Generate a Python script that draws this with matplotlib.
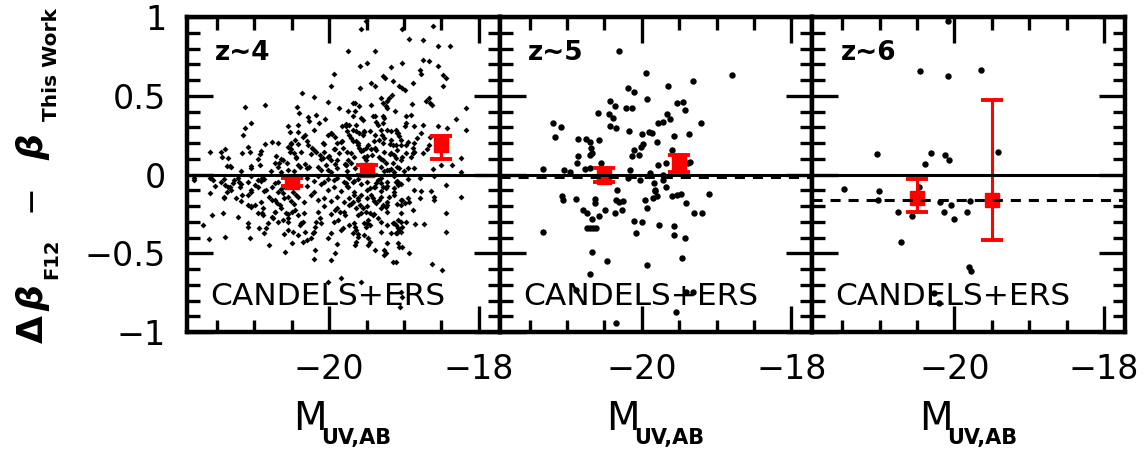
import matplotlib
matplotlib.use('Agg')
import matplotlib.pyplot as plt
from matplotlib.ticker import MultipleLocator

# ---- data ----
panel_labels = ['z~4', 'z~5', 'z~6']
field_label = 'CANDELS+ERS'

# z~4 (small diamonds)
z4_pts = [
    (-19.94, 0.64), (-19.98, 0.56), (-20.36, 0.52), (-20.20, 0.49), (-20.02, 0.46), (-19.87, 0.42),
    (-21.12, 0.43), (-20.86, 0.44), (-20.43, 0.43), (-20.40, 0.39), (-20.28, 0.365), (-20.27, 0.34),
    (-20.17, 0.38), (-20.14, 0.33), (-20.06, 0.35), (-21.04, 0.33), (-21.12, 0.295), (-21.15, 0.25),
    (-20.55, 0.305), (-20.52, 0.27), (-20.41, 0.316), (-20.32, 0.25), (-20.35, 0.237), (-20.46, 0.216),
    (-20.41, 0.195), (-20.51, 0.195), (-20.55, 0.174), (-20.52, 0.146), (-20.68, 0.2), (-20.77, 0.206),
    (-20.86, 0.193), (-21.09, 0.172), (-21.06, 0.146), (-21.17, 0.136), (-20.93, 0.131), (-20.95, 0.097),
    (-21.44, 0.146), (-21.39, 0.161), (-21.59, 0.146), (-21.43, 0.11), (-21.35, 0.104), (-21.32, 0.055),
    (-21.37, 0.055), (-21.04, 0.055), (-20.72, 0.072), (-20.67, 0.072), (-20.61, 0.093), (-20.56, 0.072),
    (-20.47, 0.136), (-20.44, 0.104), (-20.28, 0.19), (-20.23, 0.167), (-20.17, 0.146), (-20.12, 0.125),
    (-20.08, 0.104), (-20.08, 0.2), (-20.01, 0.25), (-19.96, 0.26), (-19.92, 0.237), (-19.89, 0.2),
    (-19.83, 0.21), (-19.92, 0.16), (-19.87, 0.136), (-19.81, 0.167), (-19.83, 0.305), (-19.78, 0.32),
    (-20.01, 0.114), (-19.97, 0.089), (-19.92, 0.068), (-20.32, 0.068), (-20.27, 0.047), (-20.39, 0.047),
    (-19.79, 0.068), (-20.04, 0.061),
    (-19.51, 0.974), (-19.57, 0.921), (-19.03, 0.921), (-18.61, 0.942), (-18.93, 0.862), (-18.74, 0.857),
    (-19.75, 0.783), (-19.39, 0.783), (-18.54, 0.819), (-18.38, 0.819), (-19.49, 0.709), (-19.59, 0.687),
    (-19.17, 0.683), (-19.03, 0.709), (-18.74, 0.73), (-18.66, 0.72), (-18.55, 0.687), (-19.28, 0.624),
    (-19.25, 0.613), (-18.79, 0.662), (-18.77, 0.641), (-18.48, 0.634), (-18.44, 0.613), (-19.44, 0.581),
    (-19.39, 0.56), (-19.14, 0.592), (-19.06, 0.56), (-19.02, 0.55), (-18.98, 0.539), (-18.88, 0.581),
    (-18.48, 0.56), (-19.59, 0.55), (-19.16, 0.507), (-19.2, 0.486), (-19.22, 0.465), (-19.31, 0.486),
    (-19.28, 0.454), (-19.24, 0.437), (-19.22, 0.422), (-18.67, 0.486), (-18.65, 0.454), (-18.62, 0.443),
    (-18.71, 0.465), (-18.89, 0.45), (-19.44, 0.439), (-19.68, 0.454), (-19.65, 0.454), (-19.6, 0.437),
    (-18.17, 0.422), (-19.12, 0.401), (-18.91, 0.38), (-18.97, 0.369), (-19.42, 0.369), (-19.38, 0.373),
    (-19.28, 0.369), (-19.26, 0.358), (-19.75, 0.401), (-19.66, 0.401), (-19.68, 0.369), (-19.57, 0.358),
    (-19.55, 0.348), (-19.77, 0.305), (-19.73, 0.316), (-19.64, 0.316), (-19.37, 0.331), (-19.35, 0.316),
    (-19.28, 0.327), (-18.97, 0.327), (-18.99, 0.305), (-18.86, 0.305), (-18.75, 0.316), (-18.54, 0.305),
    (-18.43, 0.295), (-18.3, 0.352), (-18.17, 0.28), (-19.22, 0.284), (-19.17, 0.274), (-19.11, 0.284),
    (-19.08, 0.263), (-19.06, 0.242), (-19.04, 0.22), (-19.68, 0.284), (-19.64, 0.274), (-19.6, 0.263),
    (-19.55, 0.252), (-19.53, 0.274), (-19.73, 0.252), (-19.71, 0.231), (-19.68, 0.21), (-19.46, 0.274),
    (-19.39, 0.252), (-19.29, 0.252), (-19.26, 0.231), (-19.33, 0.22), (-19.28, 0.2), (-19.17, 0.22),
    (-19.15, 0.189), (-19.11, 0.189), (-19.04, 0.189), (-18.97, 0.189), (-18.86, 0.2), (-18.82, 0.231),
    (-18.77, 0.263), (-18.88, 0.167), (-18.88, 0.135), (-18.86, 0.146), (-18.97, 0.135), (-19.02, 0.114),
    (-18.75, 0.135), (-18.67, 0.189), (-18.65, 0.24), (-19.39, 0.167), (-19.37, 0.157), (-19.43, 0.125),
    (-19.48, 0.189), (-19.51, 0.167), (-19.55, 0.157), (-19.64, 0.21), (-19.62, 0.189), (-19.6, 0.167),
    (-19.71, 0.135), (-19.53, 0.114), (-19.51, 0.093), (-19.33, 0.114), (-19.28, 0.093), (-19.24, 0.072),
    (-19.17, 0.135), (-19.13, 0.125), (-19.11, 0.104), (-19.15, 0.072), (-19.75, 0.093), (-19.77, 0.061),
    (-19.71, 0.072), (-19.66, 0.04), (-19.22, 0.029), (-19.17, 0.034), (-19.06, 0.04), (-18.95, 0.04),
    (-18.61, 0.036), (-18.5, 0.061), (-18.36, 0.061), (-18.24, 0.104), (-18.24, 0.019),
    (-21.81, -0.034), (-21.59, -0.023), (-21.55, -0.034), (-21.39, -0.066), (-21.32, -0.077),
    (-21.28, -0.055), (-21.21, -0.045), (-21.19, -0.077), (-21.37, -0.108), (-21.59, -0.119),
    (-21.17, -0.13), (-21.24, -0.151), (-21.41, -0.151), (-21.04, -0.098), (-20.99, -0.066),
    (-20.95, -0.034), (-20.9, -0.023), (-21.08, -0.193), (-21.04, -0.204), (-20.99, -0.193),
    (-20.88, -0.215), (-20.81, -0.14), (-20.77, -0.16), (-20.9, -0.246), (-20.88, -0.257),
    (-21.56, -0.257), (-21.42, -0.246), (-21.22, -0.272), (-21.68, -0.321), (-21.09, -0.331),
    (-20.94, -0.338), (-20.84, -0.342), (-21.61, -0.412), (-21.39, -0.395), (-21.06, -0.406),
    (-20.81, -0.448), (-20.59, -0.495), (-20.5, -0.437), (-20.19, -0.48), (-20.2, -0.537),
    (-20.01, -0.406), (-19.92, -0.501), (-19.98, -0.544), (-20.01, -0.682), (-19.84, -0.66),
    (-20.84, -0.098), (-20.77, -0.077), (-20.72, -0.055), (-20.68, -0.108), (-20.61, -0.119),
    (-20.59, -0.077), (-20.55, -0.14), (-20.48, -0.108), (-20.44, -0.13), (-20.70, -0.183),
    (-20.66, -0.193), (-20.72, -0.236), (-20.77, -0.268), (-20.75, -0.278), (-20.68, -0.3),
    (-20.61, -0.289), (-20.55, -0.278), (-20.57, -0.246), (-20.5, -0.236), (-20.46, -0.225),
    (-20.41, -0.257), (-20.55, -0.353), (-20.48, -0.363), (-20.39, -0.321), (-20.35, -0.3),
    (-20.41, -0.384), (-20.32, -0.363), (-20.35, -0.427), (-20.3, -0.416), (-20.24, -0.406),
    (-20.21, -0.374), (-20.19, -0.331), (-20.17, -0.3), (-20.12, -0.278), (-19.89, -0.444),
    (-19.84, -0.353), (-19.81, -0.342), (-19.88, -0.289), (-19.79, -0.257), (-19.86, -0.236),
    (-19.92, -0.225),
    (-18.44, -0.066), (-18.24, -0.14), (-18.44, -0.246), (-18.44, -0.363), (-18.64, -0.104),
    (-18.77, -0.104), (-18.6, -0.161), (-18.88, -0.225), (-18.73, -0.316), (-18.85, -0.316),
    (-18.97, -0.3), (-18.93, -0.172), (-18.95, -0.151), (-18.99, -0.183), (-19.04, -0.193),
    (-19.02, -0.161), (-19.08, -0.066), (-19.11, -0.045), (-19.13, -0.087), (-19.06, -0.055),
    (-19.24, -0.087), (-19.2, -0.14), (-19.22, -0.193), (-19.24, -0.204), (-19.37, -0.055),
    (-19.39, -0.077), (-19.31, -0.055), (-19.28, -0.077), (-19.46, -0.087), (-19.44, -0.13),
    (-19.42, -0.151), (-19.37, -0.183), (-19.33, -0.161), (-19.28, -0.193), (-19.57, -0.13),
    (-19.62, -0.151), (-19.68, -0.172), (-19.73, -0.193), (-19.73, -0.023), (-19.68, -0.045),
    (-19.77, -0.055), (-19.55, -0.214), (-19.51, -0.236), (-19.46, -0.246), (-19.42, -0.257),
    (-19.35, -0.278), (-19.59, -0.193), (-19.64, -0.214), (-19.62, -0.257), (-19.48, -0.289),
    (-19.53, -0.31), (-19.51, -0.331), (-19.46, -0.321), (-19.53, -0.384), (-19.48, -0.406),
    (-19.46, -0.427), (-19.48, -0.448), (-19.39, -0.48), (-19.26, -0.48), (-19.24, -0.501),
    (-19.26, -0.512), (-19.22, -0.437), (-19.08, -0.437), (-19.06, -0.459), (-19.02, -0.459),
    (-18.93, -0.501), (-19.15, -0.554), (-19.11, -0.554), (-18.62, -0.571), (-18.49, -0.607),
    (-19.57, -0.682), (-19.04, -0.745), (-19.02, -0.777), (-19.05, -0.841),
    (-19.73, -0.321), (-19.66, -0.331), (-19.64, -0.353), (-19.68, -0.374), (-19.62, -0.395),
    (-19.64, -0.427), (-19.66, -0.448), (-19.15, -0.31), (-19.11, -0.321), (-19.08, -0.342),
    (-19.06, -0.353), (-19.04, -0.363), (-19.11, -0.374), (-19.17, -0.374), (-19.22, -0.321),
    (-19.02, -0.331), (-19.04, -0.3), (-19.08, -0.289), (-19.75, -0.077), (-19.73, -0.151),
    (-20.71, 0.12), (-20.64, 0.10), (-20.44, 0.11), (-20.24, 0.13), (-20.11, 0.10), (-20.0, 0.12),
    (-19.89, 0.09), (-19.67, 0.11), (-19.49, 0.12), (-19.31, 0.10), (-19.18, 0.13), (-19.04, 0.09),
    (-18.91, 0.11),
    (-21.31, 0.05), (-21.04, 0.04), (-20.93, 0.06), (-20.69, 0.05), (-20.55, 0.03), (-20.42, 0.06),
    (-20.29, 0.04), (-20.15, 0.05), (-20.02, 0.03), (-19.89, 0.04), (-19.78, 0.06), (-19.31, 0.05),
    (-19.2, 0.03), (-19.09, 0.05), (-18.87, 0.04),
    (-21.8, -0.02), (-21.58, -0.01), (-21.4, -0.03), (-21.22, -0.02), (-21.04, -0.01), (-20.87, -0.03),
    (-20.29, -0.02), (-20.15, -0.01), (-20.02, -0.03), (-19.89, -0.02), (-19.755, -0.01), (-19.62, -0.03),
    (-19.31, -0.02), (-19.13, -0.01), (-18.95, -0.03), (-18.78, -0.02), (-18.6, -0.01),
    (-21.53, -0.07), (-21.35, -0.08), (-21.18, -0.06), (-20.955, -0.08), (-20.29, -0.07), (-20.11, -0.06),
    (-19.93, -0.08), (-19.755, -0.07), (-19.58, -0.06), (-19.4, -0.08), (-19.22, -0.07), (-19.04, -0.06),
    (-21.4, -0.14), (-21.09, -0.13), (-20.6, -0.15), (-20.42, -0.14), (-20.24, -0.13), (-20.07, -0.15),
    (-19.89, -0.14), (-19.67, -0.13), (-19.49, -0.15), (-19.31, -0.14), (-19.13, -0.13), (-18.78, -0.15),
    (-18.6, -0.14),
    (-21.04, -0.2), (-20.64, -0.21), (-20.47, -0.19), (-20.07, -0.2), (-19.89, -0.21), (-19.71, -0.19),
    (-19.49, -0.2), (-19.31, -0.21), (-19.09, -0.19),
    # denser core
    (-20.91, 0.15), (-20.51, 0.16), (-20.38, 0.14), (-20.2, 0.155), (-20.07, 0.145), (-19.93, 0.16),
    (-19.755, 0.14), (-19.58, 0.15), (-19.44, 0.165), (-19.27, 0.145), (-19.09, 0.155), (-18.87, 0.14),
    (-18.69, 0.16),
    (-21.18, 0.02), (-20.78, 0.025), (-20.64, 0.015), (-20.47, 0.02), (-20.11, 0.03), (-19.98, 0.015),
    (-19.755, 0.025), (-19.27, 0.02), (-19.13, 0.015), (-19.0, 0.025),
    (-21.44, -0.045), (-21.27, -0.035), (-21.09, -0.05), (-20.91, -0.04), (-20.69, -0.045), (-20.2, -0.04),
    (-20.07, -0.05), (-19.93, -0.035), (-19.8, -0.045), (-19.67, -0.04), (-19.49, -0.05), (-19.35, -0.035),
    (-19.22, -0.045), (-19.09, -0.04),
    (-21.31, -0.1), (-21.04, -0.11), (-20.87, -0.105), (-20.64, -0.095), (-20.2, -0.11), (-20.02, -0.1),
    (-19.84, -0.105), (-19.67, -0.11), (-19.49, -0.1), (-19.31, -0.105), (-19.13, -0.11), (-18.87, -0.1),
    (-21.18, -0.17), (-20.91, -0.175), (-20.73, -0.165), (-20.51, -0.17), (-20.33, -0.175), (-20.15, -0.165),
    (-19.98, -0.17), (-19.8, -0.175), (-19.62, -0.165), (-19.4, -0.17), (-19.22, -0.175), (-19.04, -0.165),
    (-20.955, -0.245), (-20.73, -0.24), (-20.555, -0.25), (-20.33, -0.245), (-20.15, -0.235),
    (-19.98, -0.25), (-19.8, -0.24), (-19.58, -0.245), (-19.4, -0.25), (-19.22, -0.24), (-19.04, -0.245),
    (-21.09, -0.305), (-20.82, -0.31), (-20.555, -0.3), (-20.38, -0.31), (-20.11, -0.305),
    (-19.93, -0.3), (-19.67, -0.31), (-19.49, -0.305), (-19.31, -0.3), (-19.13, -0.31),
    (-20.87, -0.37), (-20.6, -0.375), (-20.2, -0.365), (-19.98, -0.37), (-19.62, -0.375),
    (-19.31, -0.365), (-19.09, -0.37),
    (-20.42, 0.27), (-20.2, 0.28), (-19.98, 0.265), (-19.755, 0.275), (-19.53, 0.27), (-19.31, 0.28),
    (-19.09, 0.265),
    (-20.51, 0.2), (-20.29, 0.21), (-20.07, 0.195), (-19.84, 0.205), (-19.62, 0.2), (-19.4, 0.21),
    (-19.18, 0.195), (-18.95, 0.205),
]
M_z4 = [p[0] for p in z4_pts]
db_z4 = [p[1] for p in z4_pts]

# z~5 (filled circles)
z5_pts = [
    (-20.31, 0.782), (-19.94, 0.644), (-18.79, 0.631), (-19.32, 0.595), (-19.65, 0.563), (-20.18, 0.552),
    (-20.11, 0.525), (-19.93, 0.482), (-20.42, 0.467), (-20.36, 0.436), (-20.21, 0.425), (-20.13, 0.425),
    (-20.58, 0.393), (-20.445, 0.383), (-20.38, 0.361), (-19.53, 0.457), (-19.45, 0.461), (-19.42, 0.41),
    (-19.66, 0.382), (-19.71, 0.334), (-19.78, 0.329), (-19.62, 0.355), (-20.42, 0.308), (-20.34, 0.298),
    (-20.17, 0.276), (-21.19, 0.325), (-21.08, 0.302), (-21.16, 0.238), (-19.21, 0.325), (-19.91, 0.27),
    (-19.86, 0.261), (-20.0, 0.255), (-19.57, 0.245), (-19.37, 0.255), (-20.85, 0.223), (-20.75, 0.223),
    (-20.69, 0.206), (-20.57, 0.219), (-20.68, 0.17), (-20.67, 0.134), (-20.69, 0.121), (-19.99, 0.191),
    (-20.01, 0.176), (-20.11, 0.155), (-20.13, 0.117), (-20.04, 0.121), (-19.8, 0.206), (-19.59, 0.155),
    (-20.85, 0.117), (-20.86, 0.07), (-19.67, 0.075), (-19.78, 0.06), (-19.35, 0.081), (-19.38, 0.07),
    (-21.32, 0.036), (-21.04, 0.028), (-20.96, 0.015), (-20.76, 0.036), (-20.69, 0.043), (-20.16, 0.028),
    (-20.18, -0.021), (-20.02, -0.032), (-19.89, 0.011), (-19.84, -0.053), (-19.71, -0.032), (-19.71, 0.0),
    (-20.33, -0.099), (-21.07, -0.138), (-21.05, -0.163), (-20.88, -0.155), (-20.62, -0.155), (-20.62, -0.18),
    (-20.35, -0.159), (-20.31, -0.174), (-20.25, -0.17), (-20.78, -0.223), (-20.73, -0.244), (-20.67, -0.282),
    (-20.57, -0.261), (-20.49, -0.227), (-20.36, -0.244), (-20.27, -0.223), (-19.96, -0.159), (-19.93, -0.212),
    (-19.85, -0.148), (-19.8, -0.138), (-19.83, -0.106), (-19.6, -0.138), (-19.53, -0.133), (-19.47, -0.123),
    (-19.41, -0.184), (-19.3, -0.244), (-19.19, -0.244), (-19.1, -0.123), (-20.73, -0.34), (-20.69, -0.34),
    (-20.65, -0.34), (-20.61, -0.34), (-20.11, -0.297), (-20.0, -0.303), (-20.08, -0.371), (-19.77, -0.318),
    (-19.57, -0.324), (-19.57, -0.382), (-19.42, -0.403), (-21.32, -0.365), (-20.66, -0.494), (-20.46, -0.552),
    (-19.93, -0.573), (-19.46, -0.531), (-20.69, -0.63), (-20.88, -0.732), (-19.41, -0.743), (-19.32, -0.749),
    (-19.54, -0.87), (-20.35, -0.94), (-20.54, 0.07), (-19.82, -0.098), (-19.68, -0.077),
]
M_z5 = [p[0] for p in z5_pts]
db_z5 = [p[1] for p in z5_pts]

# z~6 (filled circles)
z6_pts = [
    (-20.09, 0.976), (-20.46, 0.656), (-20.09, 0.624), (-19.65, 0.666), (-21.03, 0.127), (-20.32, 0.138),
    (-20.39, 0.068), (-20.13, 0.121), (-20.07, 0.093), (-19.42, 0.146), (-21.48, -0.092), (-21.01, -0.102),
    (-21.02, -0.162), (-20.76, -0.24), (-20.57, -0.261), (-20.47, -0.081), (-20.19, -0.177), (-20.14, -0.24),
    (-20.04, -0.191), (-20.01, -0.283), (-19.79, -0.17), (-19.83, -0.24), (-20.71, -0.431), (-19.81, -0.59),
    (-19.78, -0.612), (-20.28, -0.75), (-20.2, -0.813),
]
M_z6 = [p[0] for p in z6_pts]
db_z6 = [p[1] for p in z6_pts]

# binned medians (red) and their errors
bin_M = [[-20.5, -19.5, -18.5], [-20.5, -19.5], [-20.5, -19.5]]
bin_db = [[-0.05, 0.03, 0.19], [-0.015, 0.072], [-0.148, -0.16]]
bin_err_lo = [[0.025, 0.03, 0.09], [0.03, 0.053], [0.092, 0.255]]
bin_err_hi = [[0.025, 0.03, 0.055], [0.055, 0.053], [0.118, 0.63]]

# median offset (dashed line)
median_offset = [-0.005, -0.015, -0.16]

x_ticks = [-20, -18]
x_ticklabels = ['\u221220', '\u221218']
y_ticks = [-1, -0.5, 0, 0.5, 1]
y_ticklabels = ['\u22121', '\u22120.5', '0', '0.5', '1']

M_all = [M_z4, M_z5, M_z6]
db_all = [db_z4, db_z5, db_z6]

# ---- figure ----
plt.rcParams['font.family'] = ['DejaVu Sans']
fig = plt.figure(figsize=(11.46, 4.51), dpi=100)

W, H = 1146.0, 451.0
left_px, right_px, top_px, bot_px = 187, 1125, 17, 332
pw = (right_px - left_px) / 3.0

axes = []
for i in range(3):
    ax = fig.add_axes([(left_px + i * pw) / W, 1 - bot_px / H, pw / W, (bot_px - top_px) / H])
    axes.append(ax)

for i, ax in enumerate(axes):
    if i == 0:
        ax.plot(M_all[i], db_all[i], 'D', color='black', ms=3.0, mew=0, zorder=2)
    else:
        ax.plot(M_all[i], db_all[i], 'o', color='black', ms=4.6, mew=0, zorder=2)

    ax.errorbar(bin_M[i], bin_db[i], yerr=[bin_err_lo[i], bin_err_hi[i]], fmt='s', color='red',
                ms=10, capsize=8, elinewidth=2.2, capthick=2.8, zorder=3)

    ax.axhline(0, color='black', lw=2.2, zorder=4)
    ax.axhline(median_offset[i], color='black', lw=2.2, ls=(0, (3.3, 2.6)), zorder=4)

    ax.set_xlim(-21.9, -17.72)
    ax.set_ylim(-1, 1)
    ax.set_xticks(x_ticks, labels=x_ticklabels)
    ax.xaxis.set_minor_locator(MultipleLocator(0.5))
    ax.set_yticks(y_ticks, labels=y_ticklabels if i == 0 else [])
    ax.yaxis.set_minor_locator(MultipleLocator(0.1))
    ax.tick_params(which='both', direction='in', top=True, right=True, width=2.4, colors='black')
    ax.tick_params(which='major', length=19, labelsize=24, pad=15)
    ax.tick_params(which='minor', length=9)
    for sp in ax.spines.values():
        sp.set_linewidth(3.2)

    ax.text(0.09, 0.886, panel_labels[i], transform=ax.transAxes, fontsize=19,
            fontweight='bold', va='center', ha='left')
    ax.text(0.074, 0.086, field_label, transform=ax.transAxes, fontsize=22.5,
            va='baseline', ha='left')

    # x label: M with a small bold subscript
    ax.text(0.34, -0.311, 'M', transform=ax.transAxes, fontsize=28, va='baseline', ha='left',
            clip_on=False)
    ax.text(0.43, -0.356, 'UV,AB', transform=ax.transAxes, fontsize=15, fontweight='bold',
            va='baseline', ha='left', clip_on=False)

# y label built from pieces, rotated
def ylab(px, py, s, **kw):
    fig.text(px / W, 1 - py / H, s, rotation=90, rotation_mode='anchor', **kw)

ylab(43, 343, '\u0394', fontsize=26, fontweight='bold', ha='left', va='baseline')
ylab(43, 311, '\u03b2', fontsize=26, fontweight='bold', fontstyle='italic', ha='left', va='baseline')
ylab(57, 279, 'F12', fontsize=14, fontweight='bold', ha='left', va='baseline')
ylab(30, 198, '\u2212', fontsize=24, ha='center', va='center')
ylab(43, 160, '\u03b2', fontsize=26, fontweight='bold', fontstyle='italic', ha='left', va='baseline')
ylab(57, 121, 'This Work', fontsize=14.5, fontweight='bold', ha='left', va='baseline')

plt.savefig('out.png', dpi=100)
plt.close(fig)
